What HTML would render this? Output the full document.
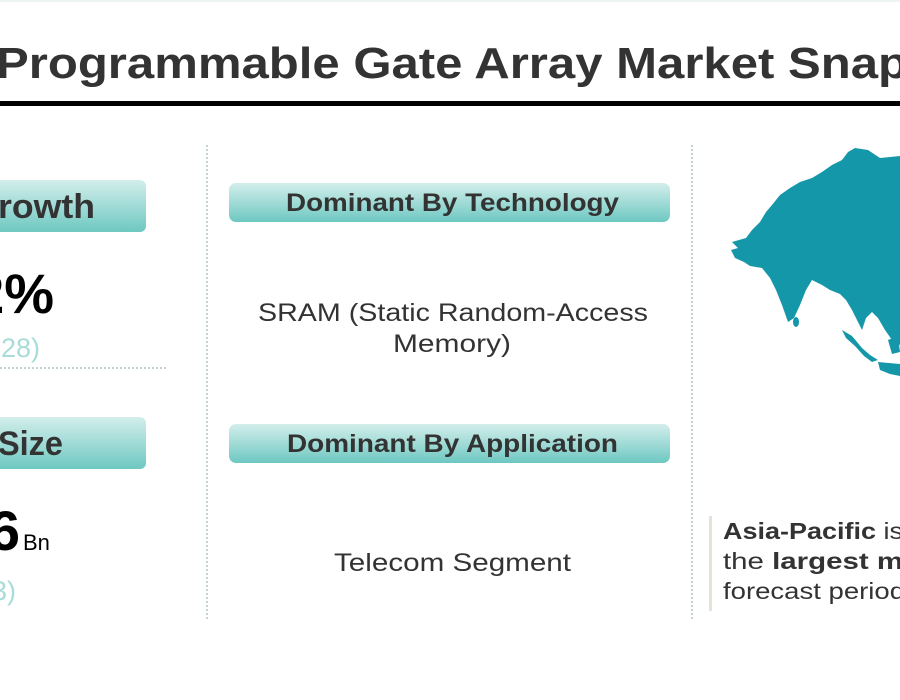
<!DOCTYPE html>
<html><head><meta charset="utf-8"><style>
html,body{margin:0;padding:0;background:#fff;width:900px;height:700px;overflow:hidden}
text{font-family:"Liberation Sans",sans-serif}
</style></head><body>
<svg width="900" height="700" viewBox="0 0 900 700" xmlns="http://www.w3.org/2000/svg">
<defs>
<linearGradient id="g" x1="0" y1="0" x2="0" y2="1">
<stop offset="0" stop-color="#d3eeeb"/><stop offset="1" stop-color="#6ec8c2"/>
</linearGradient>
</defs>
<rect x="0" y="0" width="900" height="2" fill="#eef4f4"/>
<text x="-4" y="78" font-size="44" font-weight="bold" fill="#333" textLength="912" lengthAdjust="spacingAndGlyphs">Programmable Gate Array Market Snap</text>
<rect x="0" y="101" width="900" height="5" fill="#000"/>

<line x1="207" y1="145" x2="207" y2="620" stroke="#8aa" stroke-width="1" stroke-dasharray="2,2"/>
<line x1="692" y1="145" x2="692" y2="620" stroke="#8aa" stroke-width="1" stroke-dasharray="2,2"/>
<line x1="0" y1="368" x2="168" y2="368" stroke="#8aa" stroke-width="1" stroke-dasharray="2,2"/>

<rect x="-20" y="180" width="166" height="52" rx="6" fill="url(#g)"/>
<text x="-2" y="218" font-size="34" font-weight="bold" fill="#333" textLength="97" lengthAdjust="spacingAndGlyphs">rowth</text>
<text x="54" y="313" font-size="56" font-weight="bold" fill="#000" text-anchor="end">2%</text>
<text x="40" y="357" font-size="27" fill="#a8dcd8" text-anchor="end">28)</text>

<rect x="-20" y="417" width="166" height="52" rx="6" fill="url(#g)"/>
<text x="-2" y="455" font-size="34" font-weight="bold" fill="#333" textLength="65" lengthAdjust="spacingAndGlyphs">Size</text>
<text x="20" y="550" font-size="56" font-weight="bold" fill="#000" text-anchor="end">6</text>
<text x="23" y="550" font-size="22" fill="#000">Bn</text>
<text x="16" y="600" font-size="27" fill="#a8dcd8" text-anchor="end">3)</text>

<rect x="229" y="183" width="441" height="39" rx="7" fill="url(#g)"/>
<text x="286" y="211" font-size="25" font-weight="bold" fill="#333" textLength="333" lengthAdjust="spacingAndGlyphs">Dominant By Technology</text>
<text x="258" y="321" font-size="25" fill="#333" textLength="390" lengthAdjust="spacingAndGlyphs">SRAM (Static Random-Access</text>
<text x="393" y="352" font-size="25" fill="#333" textLength="118" lengthAdjust="spacingAndGlyphs">Memory)</text>
<rect x="229" y="424" width="441" height="39" rx="7" fill="url(#g)"/>
<text x="287" y="452" font-size="25" font-weight="bold" fill="#333" textLength="331" lengthAdjust="spacingAndGlyphs">Dominant By Application</text>
<text x="334" y="571" font-size="25" fill="#333" textLength="237" lengthAdjust="spacingAndGlyphs">Telecom Segment</text>

<path fill="#1497a8" d="M855,148 L868,150 L880,158 L900,156 L900,345 L892,340 L885,330 L878,318 L872,312 L866,318 L862,330 L857,320 L852,310 L846,300 L840,294 L830,290 L822,285 L812,280 L806,290 L800,305 L794,318 L788,322 L782,305 L776,290 L770,278 L762,268 L750,266 L744,262 L735,258 L731,250 L738,248 L732,242 L746,238 L752,230 L760,222 L766,212 L772,205 L780,195 L790,188 L800,182 L812,178 L822,172 L832,165 L842,160 L848,152 Z"/>
<ellipse cx="796" cy="322" rx="3" ry="5" fill="#1497a8"/>
<path fill="#1497a8" d="M842,330 L852,336 L862,348 L870,355 L878,360 L872,362 L864,356 L855,346 L846,338 Z"/>
<path fill="#1497a8" d="M878,362 L900,364 L900,376 L890,374 L880,370 Z"/>
<path fill="#1497a8" d="M888,340 L898,336 L900,352 L892,354 Z"/>

<rect x="709" y="516" width="3" height="95" fill="#e3e3d8"/>
<text x="723" y="539" font-size="23" fill="#333" textLength="180" lengthAdjust="spacingAndGlyphs"><tspan font-weight="bold">Asia-Pacific</tspan> is</text>
<text x="723" y="569" font-size="23" fill="#333" textLength="180" lengthAdjust="spacingAndGlyphs">the <tspan font-weight="bold">largest m</tspan></text>
<text x="723" y="599" font-size="23" fill="#333" textLength="182" lengthAdjust="spacingAndGlyphs">forecast period</text>
</svg>
</body></html>
